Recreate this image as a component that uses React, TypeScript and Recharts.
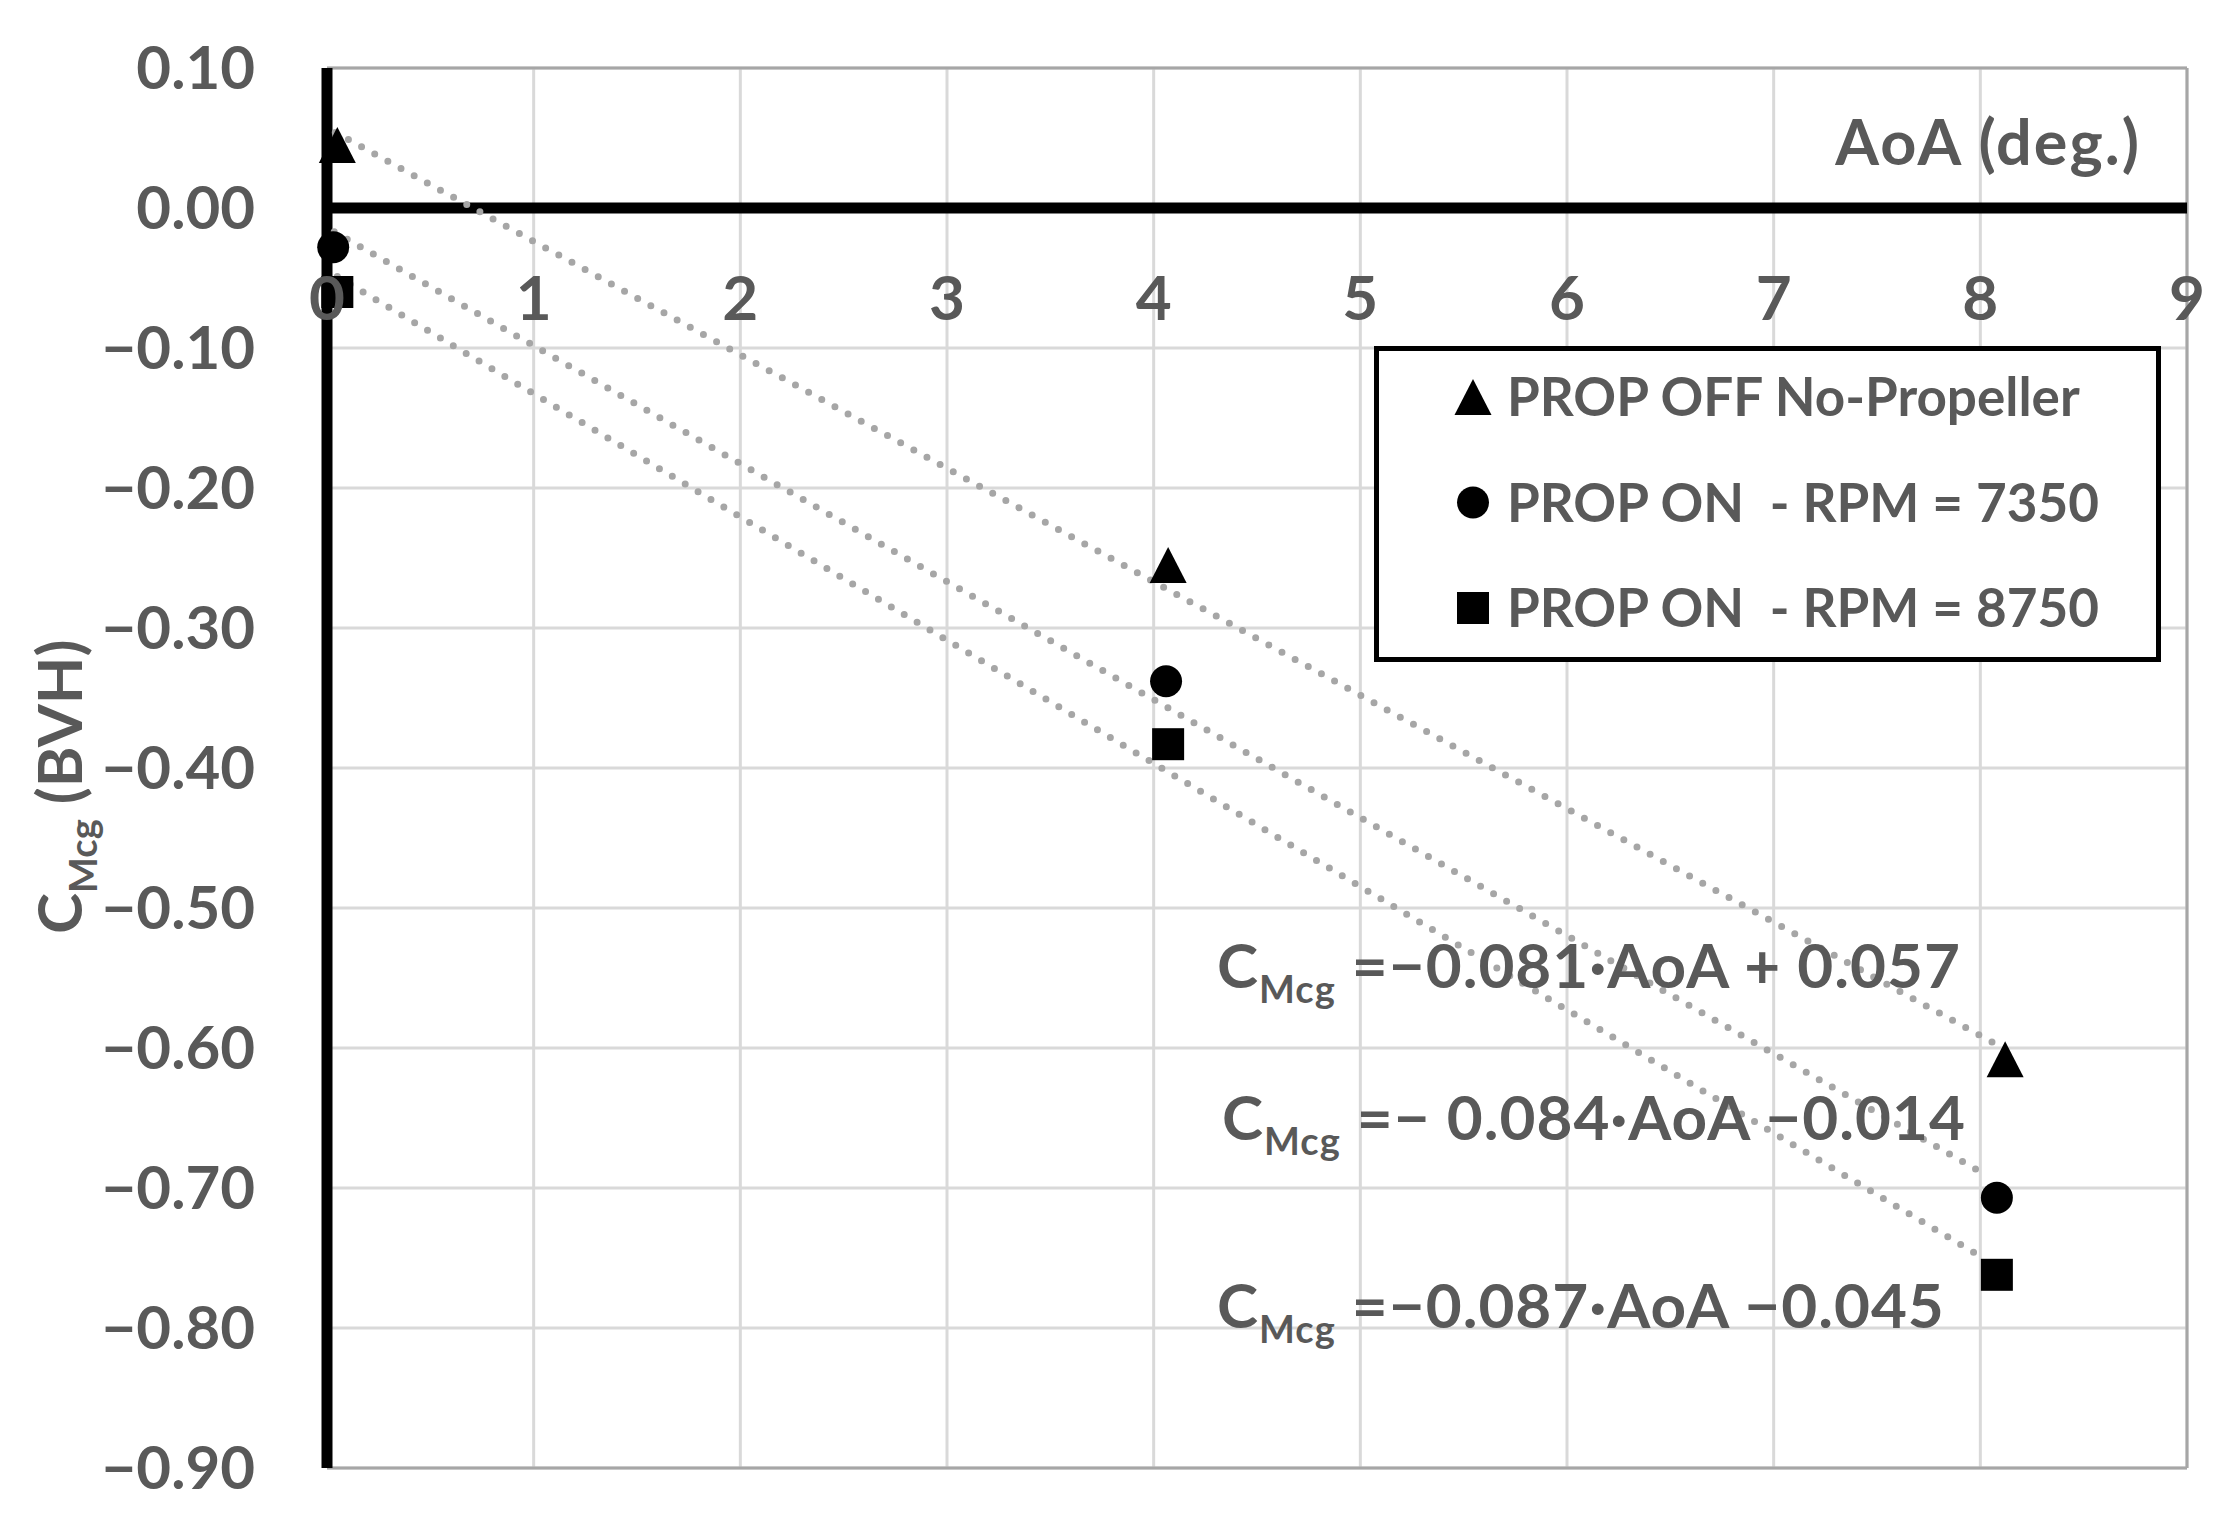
import React from 'react'
import {
  ComposedChart, Scatter, XAxis, YAxis, CartesianGrid, ReferenceLine, Legend,
} from 'recharts'

const FONT = 'Lato, "Open Sans", sans-serif'
const TEXT = '#595959'
const TREND = '#a6a6a6'

const W = 2230
const H = 1523
const PLOT_TOP = 68
const PLOT_H = 1400
const Y_MIN = -0.9
const Y_MAX = 0.1

const X_TICKS = [0, 1, 2, 3, 4, 5, 6, 7, 8, 9]
const Y_TICKS = [0.1, 0, -0.1, -0.2, -0.3, -0.4, -0.5, -0.6, -0.7, -0.8, -0.9]

// measured points (AoA deg, Cm)
const propOff = [
  { aoa: 0.05, cm: 0.045 },
  { aoa: 4.07, cm: -0.255 },
  { aoa: 8.12, cm: -0.608 },
]
const rpm7350 = [
  { aoa: 0.03, cm: -0.028 },
  { aoa: 4.06, cm: -0.338 },
  { aoa: 8.08, cm: -0.707 },
]
const rpm8750 = [
  { aoa: 0.05, cm: -0.06 },
  { aoa: 4.07, cm: -0.383 },
  { aoa: 8.08, cm: -0.762 },
]

// trendline end points as drawn
const trendOff = [{ aoa: 0.04, cm: 0.054 }, { aoa: 8.06, cm: -0.596 }]
const trend7350 = [{ aoa: 0.035, cm: -0.017 }, { aoa: 8.02, cm: -0.69 }]
const trend8750 = [{ aoa: 0.05, cm: -0.049 }, { aoa: 7.98, cm: -0.747 }]

const SERIES_NAMES = ['PROP OFF No-Propeller', 'PROP ON  - RPM = 7350', 'PROP ON  - RPM = 8750']
const EQUATIONS = ['=\u22120.081\u00b7AoA + 0.057', '=\u2212 0.084\u00b7AoA \u22120.014', '=\u22120.087\u00b7AoA \u22120.045']

type Shape = 'triangle' | 'circle' | 'square'
const SHAPES: Shape[] = ['triangle', 'circle', 'square']

function Marker({ cx, cy, kind }: { cx: number; cy: number; kind: Shape }) {
  if (kind === 'triangle') {
    return <polygon points={`${cx},${cy - 18} ${cx - 18.5},${cy + 18} ${cx + 18.5},${cy + 18}`} fill="#000" />
  }
  if (kind === 'circle') return <circle cx={cx} cy={cy} r={16} fill="#000" />
  return <rect x={cx - 16} y={cy - 16} width={32} height={32} fill="#000" />
}

const zeroY = PLOT_TOP + (PLOT_H * (Y_MAX - 0)) / (Y_MAX - Y_MIN)

function XTick(props: any) {
  const { x, payload } = props
  return (
    <text x={x} y={zeroY + 112} textAnchor="middle" fill={TEXT}
      style={{ fontFamily: FONT, fontWeight: 700, fontSize: 62 }}>
      {payload.value}
    </text>
  )
}

function fmtY(v: number) {
  return (v < 0 ? '\u2212' : '') + Math.abs(v).toFixed(2)
}

function LegendBox(props: any) {
  const items = (props.payload ?? []).filter((p: any) => SERIES_NAMES.includes(p.value))
  return (
    <svg width={787} height={316}>
      <rect x={2.5} y={2.5} width={782} height={311} fill="#fff" stroke="#000" strokeWidth={5} />
      {items.map((p: any, i: number) => {
        const cy = 51 + i * 105.5
        const kind = SHAPES[SERIES_NAMES.indexOf(p.value)]
        return (
          <g key={p.value}>
            <Marker cx={99} cy={cy} kind={kind} />
            <text x={133} y={cy + 19} fill={TEXT} xmlSpace="preserve"
              style={{ fontFamily: FONT, fontWeight: 700, fontSize: 53, whiteSpace: 'pre' }}>
              {p.value}
            </text>
          </g>
        )
      })}
    </svg>
  )
}

function Equation({ x, y, text }: { x: number; y: number; text: string }) {
  return (
    <text x={x} y={y} fill={TEXT} xmlSpace="preserve"
      style={{ fontFamily: FONT, fontWeight: 700, fontSize: 62, letterSpacing: 1, whiteSpace: 'pre' }}>
      C<tspan fontSize={38} dy={15}>Mcg</tspan><tspan dy={-15}>{' ' + text}</tspan>
    </text>
  )
}

export default function App() {
  return (
    <div style={{ position: 'absolute', left: 0, top: 0, width: W, height: H, background: '#fff' }}>
      <ComposedChart width={W} height={H} margin={{ top: PLOT_TOP, right: 43, bottom: 54, left: 0 }}>
        <CartesianGrid stroke="#d9d9d9" strokeWidth={3} />
        <XAxis
          type="number"
          dataKey="aoa"
          domain={[0, 9]}
          ticks={X_TICKS}
          interval={0}
          height={1}
          axisLine={false}
          tickLine={false}
          tick={<XTick />}
        />
        <YAxis
          type="number"
          dataKey="cm"
          domain={[Y_MIN, Y_MAX]}
          ticks={Y_TICKS}
          interval={0}
          width={327}
          axisLine={{ stroke: '#000', strokeWidth: 11 }}
          tickLine={false}
          tickSize={0}
          tickMargin={72}
          tickFormatter={fmtY}
          tick={{ fill: TEXT, fontFamily: FONT, fontWeight: 700, fontSize: 60 }}
        />
        <ReferenceLine y={Y_MAX} stroke="#a6a6a6" strokeWidth={3} />
        <ReferenceLine y={Y_MIN} stroke="#a6a6a6" strokeWidth={3} />
        <ReferenceLine x={9} stroke="#a6a6a6" strokeWidth={3} />
        <ReferenceLine y={0} stroke="#000" strokeWidth={11} />
        {[trendOff, trend7350, trend8750].map((t, i) => (
          <Scatter
            key={`trend-${i}`}
            data={t}
            dataKey="cm"
            legendType="none"
            isAnimationActive={false}
            line={{ stroke: TREND, strokeWidth: 7, strokeDasharray: '0 15', strokeLinecap: 'round' }}
            shape={() => <g />}
          />
        ))}
        {[propOff, rpm7350, rpm8750].map((d, i) => (
          <Scatter
            key={SERIES_NAMES[i]}
            name={SERIES_NAMES[i]}
            data={d}
            dataKey="cm"
            fill="#000"
            isAnimationActive={false}
            shape={(p: any) => <Marker cx={p.cx} cy={p.cy} kind={SHAPES[i]} />}
          />
        ))}
        <Legend
          layout="vertical"
          align="center"
          verticalAlign="middle"
          wrapperStyle={{ left: 1374, top: 346, width: 787, height: 316 }}
          content={<LegendBox />}
        />
      </ComposedChart>
      <svg width={W} height={H} style={{ position: 'absolute', left: 0, top: 0, pointerEvents: 'none' }}>
        <text x={2141} y={165} textAnchor="end" fill={TEXT}
          style={{ fontFamily: FONT, fontWeight: 700, fontSize: 63, letterSpacing: 2 }}>
          AoA (deg.)
        </text>
        <text transform="translate(82,934) rotate(-90)" fill={TEXT} xmlSpace="preserve"
          style={{ fontFamily: FONT, fontWeight: 700, fontSize: 62, whiteSpace: 'pre' }}>
          C<tspan fontSize={38} dy={15}>Mcg</tspan><tspan dy={-15}> (BVH)</tspan>
        </text>
        <Equation x={1217} y={988} text={EQUATIONS[0]} />
        <Equation x={1222} y={1140} text={EQUATIONS[1]} />
        <Equation x={1217} y={1328} text={EQUATIONS[2]} />
      </svg>
    </div>
  )
}
